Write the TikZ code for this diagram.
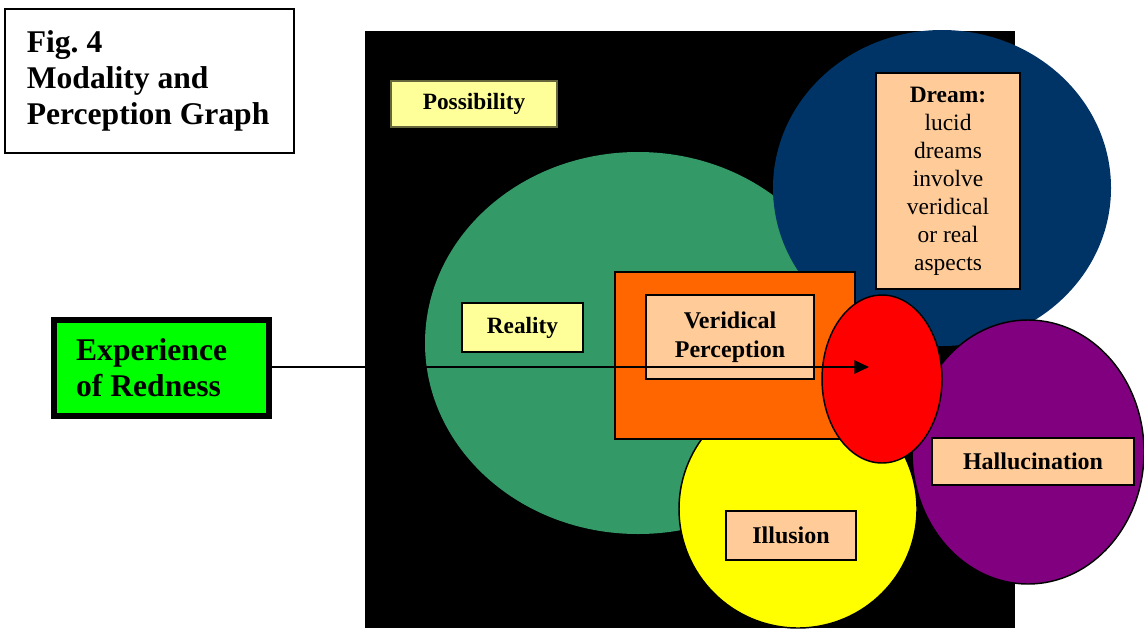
\documentclass[tikz,border=0pt]{standalone}
\usepackage{fontspec}
\setmainfont{Liberation Serif}
\usetikzlibrary{shapes.geometric,arrows.meta}

\definecolor{fieldgreen}{HTML}{339966}
\definecolor{dreamblue}{HTML}{003366}
\definecolor{hallpurple}{HTML}{800080}
\definecolor{illyellow}{HTML}{FFFF00}
\definecolor{veridorange}{HTML}{FF6600}
\definecolor{redspot}{HTML}{FF0000}
\definecolor{peach}{HTML}{FFCC99}
\definecolor{paleyellow}{HTML}{FFFF99}
\definecolor{brightgreen}{HTML}{00FF00}

\tikzset{
  region/.style={ellipse, inner sep=0pt, outer sep=0pt},
  outlined/.style={draw=black, line width=1.1pt},
  labelbox/.style={rectangle, draw=black, line width=1.1pt, inner sep=0pt,
    font=\fontsize{17.5}{21}\selectfont\bfseries, align=flush center},
  bigtext/.style={font=\fontsize{23.7}{27}\selectfont\bfseries},
}

\begin{document}
\frenchspacing
\begin{tikzpicture}[x=0.75pt,y=-0.75pt]
\useasboundingbox (0,0) rectangle (1144,628);

% background field of possibility
\fill[black] (365,31) rectangle (1015,628);

% regions
\node[region, fill=fieldgreen, minimum width=319.5pt, minimum height=286.5pt] (reality) at (638,343) {};
\node[region, fill=dreamblue, minimum width=253.5pt, minimum height=237pt] (dream) at (942,188) {};
\node[region, outlined, fill=illyellow, minimum width=178.5pt, minimum height=178.5pt] (illusion) at (798,509) {};
\node[region, outlined, fill=hallpurple, minimum width=174pt, minimum height=198pt] (halluc) at (1028,452) {};
\node[rectangle, outlined, fill=veridorange, inner sep=0pt, minimum width=180pt, minimum height=125.25pt] (veridical) at (735,355.5) {};
\node[region, outlined, fill=redspot, minimum width=90pt, minimum height=126pt] (redness) at (882,379) {};

% labels
\node[labelbox, fill=paleyellow, draw=black!60!paleyellow, minimum width=124.5pt, minimum height=34.5pt] (possLabel) at (474,104) {Possibility};
\node[labelbox, fill=paleyellow, minimum width=90.75pt, minimum height=36.75pt] (realLabel) at (522.5,327.5) {Reality};
\node[labelbox, fill=peach, minimum width=126pt, minimum height=63pt,
      font=\fontsize{18}{21.75}\selectfont\bfseries] (verLabel) at (730,337) {Veridical\\Perception};
\node[labelbox, fill=peach, minimum width=108pt, minimum height=162pt,
      font=\fontsize{17.6}{21}\selectfont] (dreamLabel) at (948,181)
      {\textbf{Dream:}\\lucid\\dreams\\involve\\veridical\\or real\\aspects};
\node[labelbox, fill=peach, minimum width=151.5pt, minimum height=35.25pt,
      font=\fontsize{18}{21}\selectfont\bfseries] (hallLabel) at (1033,461.5) {Hallucination};
\node[labelbox, fill=peach, minimum width=97.5pt, minimum height=36.75pt,
      font=\fontsize{18}{21}\selectfont\bfseries] (illLabel) at (791,535.5) {Illusion};

% title box
\node[rectangle, draw=black, line width=1.5pt, fill=white, inner sep=0pt,
      minimum width=216.75pt, minimum height=108pt, text width=184pt, align=flush left, bigtext]
      (title) at (149.5,81) {Fig. 4\\Modality and\\Perception Graph};

% experience box
\node[rectangle, draw=black, line width=4.5pt, fill=brightgreen, inner sep=0pt,
      minimum width=161.25pt, minimum height=72pt, text width=128pt, align=flush left, bigtext]
      (experience) at (161.5,368) {Experience\\of Redness};

% arrow into the red spot
\coordinate (target) at (869,367);
\draw[line width=1.1pt, -{Triangle[length=11pt,width=10pt]}] (experience.east |- target) -- (target);
\end{tikzpicture}
\end{document}
